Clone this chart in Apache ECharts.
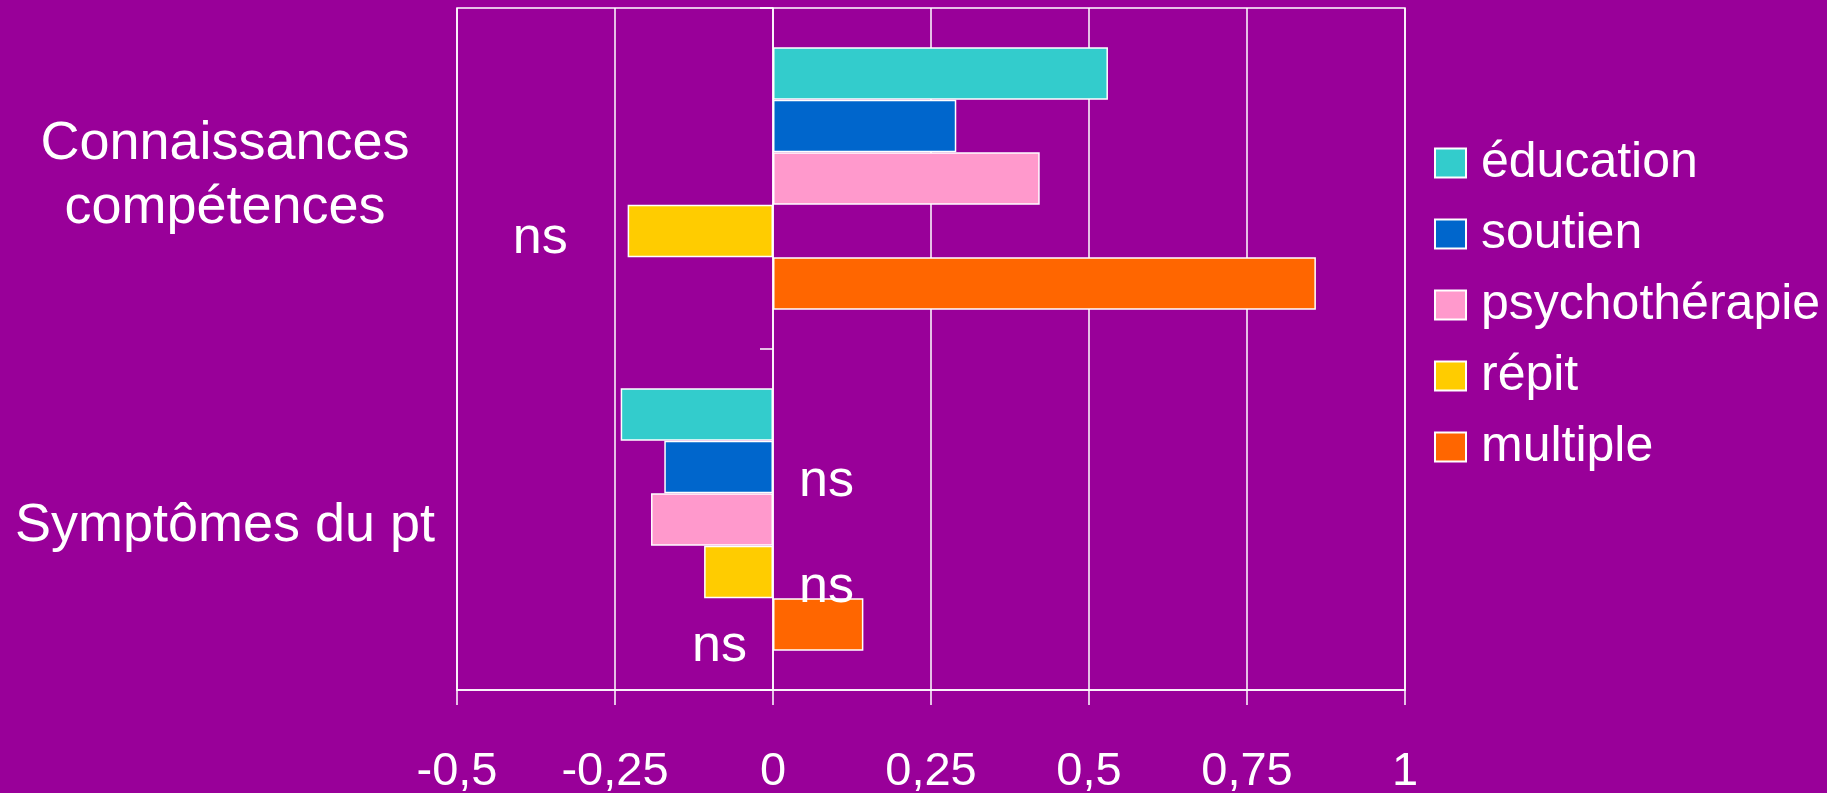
<!DOCTYPE html>
<html>
<head>
<meta charset="utf-8">
<script src="https://cdn.jsdelivr.net/npm/echarts@6/dist/echarts.min.js"></script>
<style>
html,body{margin:0;padding:0;background:#990099;}
#container{width:1827px;height:793px;}
</style>
</head>
<body>
<div id="container"></div>
<script>
// categories / series / ticks
var categories = ['Connaissances\ncompétences', 'Symptômes du pt'];
var seriesNames = ['éducation', 'soutien', 'psychothérapie', 'répit', 'multiple'];
var education = [0.53, -0.241];
var soutien = [0.29, -0.172];
var psychotherapie = [0.422, -0.193];
var repit = [-0.23, -0.109];
var multiple = [0.859, 0.143];
var xTickValues = [-0.5, -0.25, 0, 0.25, 0.5, 0.75, 1];
var xTickLabels = ['-0,5', '-0,25', '0', '0,25', '0,5', '0,75', '1'];
var colors = ['#33CCCC', '#0066CC', '#FF99CC', '#FFCC00', '#FF6600'];

var shadowText = {
    color: '#fff',
    textShadowColor: '#000',
    textShadowOffsetX: 2,
    textShadowOffsetY: 2,
    textShadowBlur: 0
};

function nsLabel(position, distance, dy) {
    return Object.assign({
        show: true,
        formatter: 'ns',
        position: position,
        distance: distance,
        offset: [0, dy],
        fontSize: 52,
        fontFamily: 'Liberation Sans'
    }, shadowText);
}

var seriesValues = [education, soutien, psychotherapie, repit, multiple];
// which bars carry an "ns" note
var nsMarks = {
    '3-0': nsLabel('left', 60, 8),
    '1-1': nsLabel('right', 26, 15),
    '3-1': nsLabel('right', 26, 16),
    '4-1': nsLabel('left', 26, 22)
};

var series = seriesNames.map(function (name, i) {
    return {
        name: name,
        type: 'bar',
        barGap: 0,
        barCategoryGap: '23%',
        itemStyle: {color: colors[i], borderColor: '#fff', borderWidth: 1.5},
        data: seriesValues[i].map(function (v, j) {
            var item = {value: v};
            if (nsMarks[i + '-' + j]) item.label = nsMarks[i + '-' + j];
            return item;
        })
    };
});

var catRich = {
    a: Object.assign({fontSize: 54, lineHeight: 64, padding: [0, 0, 5, 0]}, shadowText),
    b: Object.assign({fontSize: 54, lineHeight: 64, padding: [14, 0, 0, 0]}, shadowText)
};

var option = {
    backgroundColor: '#990099',
    animation: false,
    textStyle: {fontFamily: 'Liberation Sans'},
    grid: {
        left: 457,
        right: 422,
        top: 8,
        bottom: 103,
        outerBoundsMode: 'none',
        show: true,
        borderColor: '#fff',
        borderWidth: 1.5
    },
    legend: {
        orient: 'vertical',
        left: 1429,
        top: 133,
        itemWidth: 31,
        itemHeight: 29,
        itemGap: 21,
        icon: 'rect',
        textStyle: {color: '#fff', fontSize: 50, lineHeight: 50, padding: [0, 0, 0, 10]},
        data: seriesNames
    },
    xAxis: {
        type: 'value',
        min: -0.5,
        max: 1,
        interval: 0.25,
        axisLine: {show: true, onZero: false, lineStyle: {color: '#fff', width: 1.5}},
        axisTick: {show: true, length: 15, lineStyle: {color: '#fff', width: 1.5}},
        splitLine: {show: true, lineStyle: {color: '#fff', width: 1.5}},
        axisLabel: {
            color: '#fff',
            fontSize: 47,
            margin: 59,
            formatter: function (v) {
                var k = xTickValues.indexOf(Math.round(v * 100) / 100);
                return k >= 0 ? xTickLabels[k] : '';
            }
        }
    },
    yAxis: [{
        type: 'category',
        inverse: true,
        data: categories,
        position: 'left',
        axisLine: {show: false, onZero: false},
        axisTick: {show: false},
        axisLabel: Object.assign({
            fontSize: 54,
            lineHeight: 64,
            align: 'center',
            margin: 232,
            rich: catRich,
            formatter: function (v, i) {
                var key = i === 0 ? 'a' : 'b';
                return v.split('\n').map(function (line) {
                    return '{' + key + '|' + line + '}';
                }).join('\n');
            }
        }, shadowText)
    }, {
        type: 'category',
        inverse: true,
        data: categories,
        position: 'left',
        axisLine: {show: true, onZero: true, onZeroAxisIndex: 0, lineStyle: {color: '#fff', width: 1.5}},
        axisTick: {show: true, length: 13, lineStyle: {color: '#fff', width: 1.5}},
        axisLabel: {show: false}
    }],
    series: series
};

var myChart = echarts.init(document.getElementById('container'));
myChart.setOption(option);
</script>
</body>
</html>
